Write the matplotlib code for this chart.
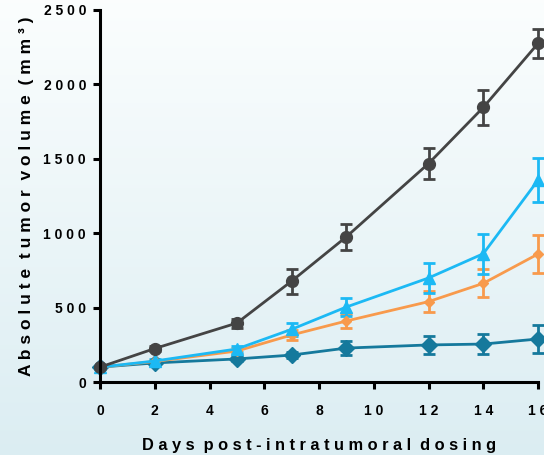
import numpy as np
import matplotlib
matplotlib.use('Agg')
import matplotlib.pyplot as plt

plt.rcParams['font.family'] = ['Liberation Sans', 'DejaVu Sans']
plt.rcParams['font.weight'] = 'bold'

# data
days = [0, 2, 5, 7, 9, 12, 14, 16]

black_mean = [100, 225, 396, 678, 976, 1468, 1845, 2275]
black_err = [10, 15, 30, 84, 87, 106, 120, 100]

cyan_mean = [100, 141, 222, 354, 504, 699, 862, 1356]
cyan_err = [8, 12, 20, 45, 62, 104, 135, 148]

orange_mean = [100, 138, 208, 316, 410, 540, 663, 860]
orange_err = [8, 10, 18, 32, 47, 70, 95, 130]

teal_mean = [100, 128, 155, 181, 228, 249, 255, 289]
teal_err = [8, 10, 15, 20, 47, 58, 65, 94]

x_ticks = [0, 2, 4, 6, 8, 10, 12, 14, 16]
y_ticks = [0, 500, 1000, 1500, 2000, 2500]


def spaced(s):
    # mimic the wide letter spacing of the original
    return ' '.join(s)


fig = plt.figure(figsize=(5.44, 4.55), dpi=100)

# background gradient, white at the top to pale blue at the bottom
bg = fig.add_axes([0, 0, 1, 1], zorder=-10)
grad = np.linspace(0, 1, 256).reshape(-1, 1)
top = np.array([0.985, 0.995, 0.995])
bottom = np.array([0.86, 0.93, 0.95])
img = top + (bottom - top) * grad[:, :, None]
bg.imshow(img, aspect='auto', extent=[0, 1, 0, 1])
bg.axis('off')

ax = fig.add_axes([100 / 544, 73 / 455, 438 / 544, 372 / 455])
ax.patch.set_alpha(0)

series = [
    (teal_mean, teal_err, '#15799c', 'D', 8.5),
    (orange_mean, orange_err, '#f89a4c', 'D', 5.5),
    (cyan_mean, cyan_err, '#1cb9f4', '^', 8),
    (black_mean, black_err, '#444444', 'o', 8.5),
]
for mean, err, col, mk, ms in series:
    ax.errorbar(days, mean, yerr=err, color=col, marker=mk, markersize=ms,
                linewidth=2, elinewidth=2, capsize=4, capthick=2, clip_on=False)

ax.set_xlim(0, 16)
ax.set_ylim(0, 2500)
ax.set_xticks(x_ticks)
ax.set_xticklabels([spaced(str(t)) for t in x_ticks])
ax.set_yticks(y_ticks)
ax.set_yticklabels([spaced(str(t)) for t in y_ticks])

for s in ['top', 'right']:
    ax.spines[s].set_visible(False)
for s in ['left', 'bottom']:
    ax.spines[s].set_linewidth(2.2)
ax.tick_params(axis='both', direction='out', length=5, width=2.2,
               labelsize=10)
ax.tick_params(axis='x', pad=11)
ax.tick_params(axis='y', pad=5)

ax.set_xlabel('  '.join(spaced(w) for w in 'Days post-intratumoral dosing'.split()),
              fontsize=11.8, fontweight='bold', labelpad=14)
ax.set_ylabel('  '.join(spaced(w) for w in 'Absolute tumor volume (mm³)'.split()),
              fontsize=12.5, fontweight='bold', labelpad=7)

fig.savefig('out.png', dpi=100)
